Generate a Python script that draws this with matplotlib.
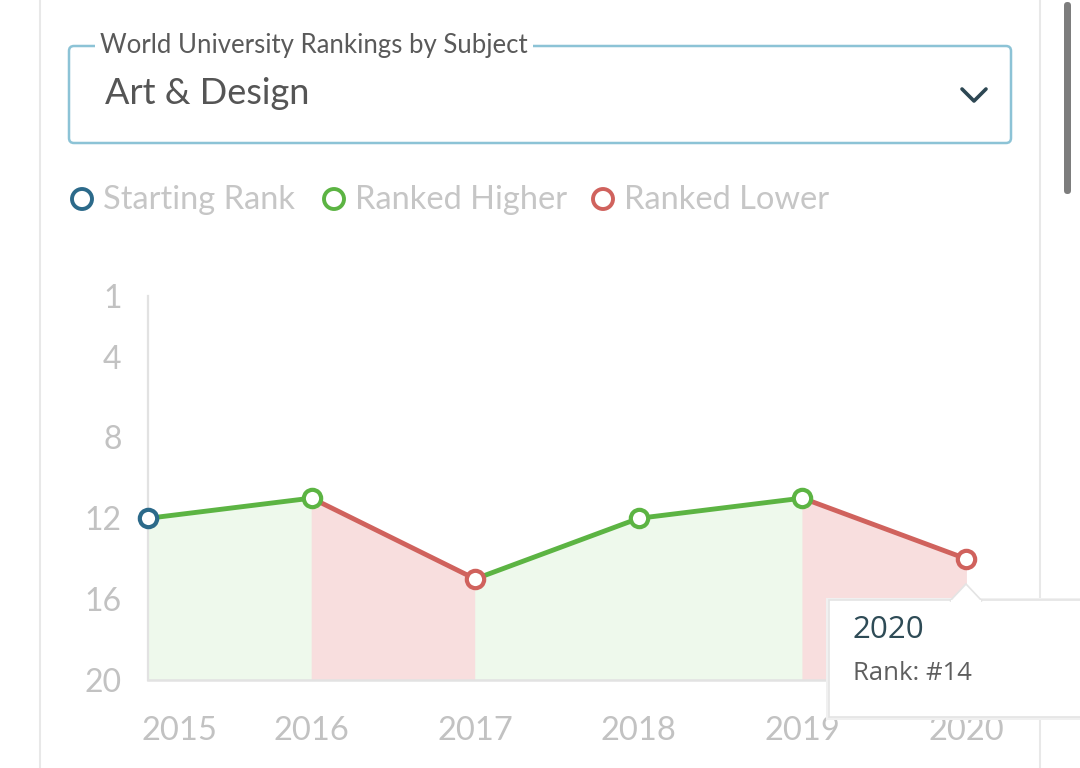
import matplotlib
matplotlib.use("Agg")
import matplotlib.pyplot as plt
from matplotlib.patches import FancyBboxPatch, Circle, Polygon, Rectangle
from matplotlib.transforms import ScaledTranslation

# ---- data ----
years = [2015, 2016, 2017, 2018, 2019, 2020]
ranks = [12, 11, 15, 12, 11, 14]
y_ticks = [1, 4, 8, 12, 16, 20]
x_labels = ["2015", "2016", "2017", "2018", "2019", "2020"]
legend_labels = ["Starting Rank", "Ranked Higher", "Ranked Lower"]
subject_caption = "World University Rankings by Subject"
subject = "Art & Design"
tooltip_year = "2020"
tooltip_rank = "Rank: #14"

# ---- style ----
C_START = "#2c6a8a"
C_UP = "#5cb443"
C_DOWN = "#d0625d"
F_UP = "#eef9ec"
F_DOWN = "#f8dede"
C_TICK = "#c2c2c2"
C_AXIS = "#e2e2e2"
FONT = ["Lato", "DejaVu Sans"]
plt.rcParams["font.family"] = FONT

W, H = 1080, 768
fig = plt.figure(figsize=(W / 100, H / 100), dpi=100)
fig.patch.set_facecolor("white")

# chart axes, positioned in pixel terms
x0, x1 = 148, 966
yt, yb = 296, 680
ax = fig.add_axes([x0 / W, (H - yb) / H, (x1 - x0) / W, (yb - yt) / H])
ax.set_xlim(years[0], years[-1])
ax.set_ylim(20, 1)
ax.set_facecolor("none")

for i in range(len(years) - 1):
    up = ranks[i + 1] <= ranks[i]
    xs = years[i:i + 2]
    ys = ranks[i:i + 2]
    fc = F_UP if up else F_DOWN
    ax.fill_between(xs, ys, [20, 20], facecolor=fc, edgecolor=fc, lw=0.6, zorder=1)
    ax.plot(xs, ys, color=C_UP if up else C_DOWN, lw=3.5, solid_capstyle="round",
            zorder=3, clip_on=False)

for i, (x, y) in enumerate(zip(years, ranks)):
    if i == 0:
        c = C_START
    else:
        c = C_UP if ranks[i] <= ranks[i - 1] else C_DOWN
    ax.plot([x], [y], marker="o", ms=12.5, mfc="white", mec=c, mew=3.0,
            zorder=5, clip_on=False)

for s in ["top", "right"]:
    ax.spines[s].set_visible(False)
ax.spines["left"].set_color(C_AXIS)
ax.spines["left"].set_linewidth(1.6)
ax.spines["bottom"].set_color(C_AXIS)
ax.spines["bottom"].set_linewidth(1.8)
ax.spines["left"].set_zorder(2)

ax.set_yticks(y_ticks)
ax.set_yticklabels([str(v) for v in y_ticks])
ax.set_xticks(years)
ax.set_xticklabels(x_labels)
ax.tick_params(axis="y", length=0, pad=19, labelsize=23, labelcolor=C_TICK)
ax.tick_params(axis="x", length=0, pad=26, labelsize=23.5, labelcolor=C_TICK)
# first x label is nudged inward
lbl0 = ax.get_xticklabels()[0]
lbl0.set_transform(lbl0.get_transform() + ScaledTranslation(31 / 100, 0, fig.dpi_scale_trans))

# overlay axes for UI elements (pixel coordinates)
ov = fig.add_axes([0, 0, 1, 1], zorder=10)
ov.set_xlim(0, W)
ov.set_ylim(H, 0)
ov.axis("off")
ov.patch.set_alpha(0)

# panel frame lines
ov.plot([40, 40], [0, H], color="#e8e8e8", lw=1.5)
ov.plot([1040, 1040], [0, H], color="#e8e8e8", lw=1.5)
# scrollbar
ov.add_patch(FancyBboxPatch((1064, 2), 7, 192, boxstyle="round,pad=0,rounding_size=3.5",
                            fc="#7d7d7d", ec="none"))

# dropdown box
ov.add_patch(FancyBboxPatch((69, 46), 942, 97, boxstyle="round,pad=0,rounding_size=5",
                            fc="white", ec="#8cc3d6", lw=1.8))
ov.text(100, 45.5, subject_caption, fontsize=18.5, color="#5a5a5a", va="center", ha="left",
        bbox=dict(boxstyle="square,pad=0.2", fc="white", ec="none"))
ov.text(105, 94, subject, fontsize=26, color="#555555", va="center", ha="left")
ov.plot([962, 974, 986], [89, 101, 89], color="#2d4753", lw=2.6, solid_capstyle="round",
        solid_joinstyle="round")

# legend
leg_colors = [C_START, C_UP, C_DOWN]
leg_cx = [82, 334, 603]
for cx, c, lab in zip(leg_cx, leg_colors, legend_labels):
    ov.add_patch(Circle((cx, 199), 10, fc="white", ec=c, lw=2.8))
    ov.text(cx + 21, 200, lab, fontsize=23.5, color="#c6c6c6", va="center", ha="left")

# tooltip
ov.add_patch(Rectangle((826, 598), 260, 122, fc="#f0f0f0", ec="none", zorder=19))
ov.add_patch(Rectangle((829, 600), 260, 117, fc="white", ec="#e4e4e4", lw=1.2, zorder=20))
ov.add_patch(Polygon([[950, 601], [966, 584], [982, 601]], closed=True,
                     fc="white", ec="#e4e4e4", lw=1.2, zorder=21))
ov.add_patch(Rectangle((951, 599.5), 30, 3, fc="white", ec="none", zorder=22))
ov.text(853, 630, tooltip_year, fontsize=22.5, color="#2e4b56", va="center", ha="left",
        family=["Open Sans", "DejaVu Sans"], zorder=23)
ov.text(853, 673, tooltip_rank, fontsize=18.5, color="#5e5e5e", va="center", ha="left",
        family=["Open Sans", "DejaVu Sans"], zorder=23)

fig.savefig("out.png", dpi=100, facecolor="white")
